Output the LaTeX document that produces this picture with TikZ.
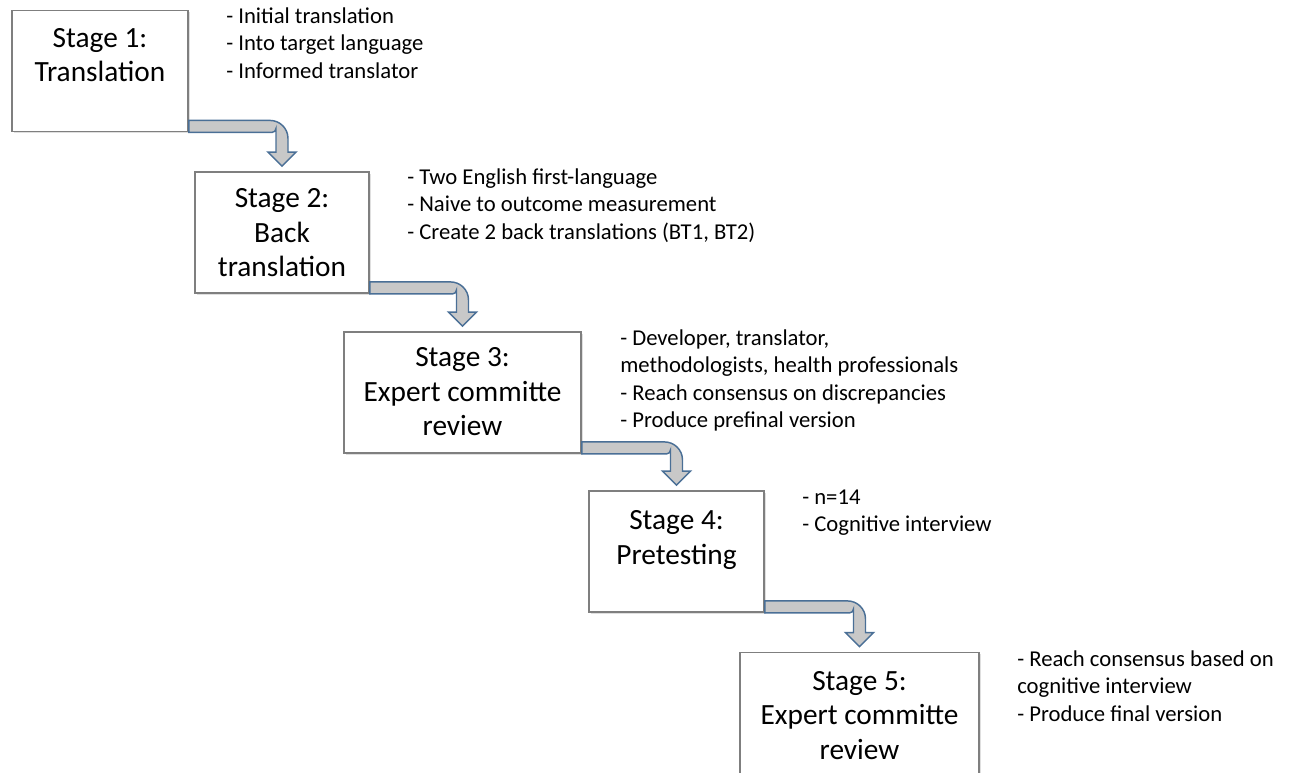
\documentclass[tikz,border=0pt]{standalone}
\usepackage{fontspec}
\setmainfont{Carlito}
\usetikzlibrary{calc,shadows}
\definecolor{cadre}{HTML}{7F7F7F}
\definecolor{flechebord}{HTML}{4A6F96}
\definecolor{flechefond}{HTML}{C8C8C8}
\begin{document}
\begin{tikzpicture}[x=0.75pt,y=-0.75pt]
\tikzset{etape/.style={draw=cadre, line width=1.4pt, fill=white, minimum height=90.75pt,
    drop shadow={shadow xshift=1.5pt, shadow yshift=-1.5pt, opacity=0.25}},
  titre/.style={anchor=north, align=center, inner sep=0pt, font=\fontsize{22}{26}\selectfont},
  note/.style={anchor=north west, align=left, inner sep=0pt, font=\fontsize{17}{20.6}\selectfont},
  fleche/.style={draw=flechebord, line width=1.1pt, fill=flechefond}}
\useasboundingbox (0,0) rectangle (1290,773);
\node[etape, minimum width=132pt] (E1) at (100,71) {};
\node[etape, minimum width=130.5pt] (E2) at (282,232.5) {};
\node[etape, minimum width=177.75pt] (E3) at (462.5,392.5) {};
\node[etape, minimum width=131.25pt] (E4) at (676.5,551.5) {};
\node[etape, minimum width=179.25pt] (E5) at (859.5,713) {};
\node[titre] (T1) at ($(E1.north)+(0,13)$) {\strut Stage 1:\\Translation};
\node[titre] (T2) at ($(E2.north)+(0,12)$) {\strut Stage 2:\\Back\\translation};
\node[titre] (T3) at ($(E3.north)+(0,11)$) {\strut Stage 3:\\Expert committe\\review};
\node[titre] (T4) at ($(E4.north)+(0,15)$) {\strut Stage 4:\\Pretesting};
\node[titre] (T5) at ($(E5.north)+(0,14)$) {\strut Stage 5:\\Expert committe\\review};
\node[note] (N1) at (226,4) {\strut - Initial translation\\- Into target language\\- Informed translator};
\node[note] (N2) at (407,165) {\strut - Two English first-language\\- Naive to outcome measurement\\- Create 2 back translations (BT1, BT2)};
\node[note] (N3) at (620,326) {\strut - Developer, translator,\\methodologists, health professionals\\- Reach consensus on discrepancies\\- Produce prefinal version};
\node[note] (N4) at (802,485) {\strut - n=14\\- Cognitive interview};
\node[note] (N5) at (1017,647) {\strut - Reach consensus based on\\cognitive interview\\- Produce final version};
\foreach \a/\b in {E1/E2,E2/E3,E3/E4,E4/E5}
  \filldraw[fleche] let \p1=(\a.south east), \p2=(\b.north) in
    (\x1,\y1+9pt) -- (\x2-9pt,\y1+9pt) arc[start angle=90,end angle=0,radius=13.5pt]
    -- (\x2+4.5pt,\y2+14.25pt) -- (\x2+10.5pt,\y2+14.25pt) -- (\x2,\y2+3.75pt)
    -- (\x2-10.5pt,\y2+14.25pt) -- (\x2-4.5pt,\y2+14.25pt) -- (\x2-4.5pt,\y1+3pt)
    arc[start angle=0,end angle=-90,radius=3pt] -- (\x1,\y1) -- cycle;
\end{tikzpicture}
\end{document}
